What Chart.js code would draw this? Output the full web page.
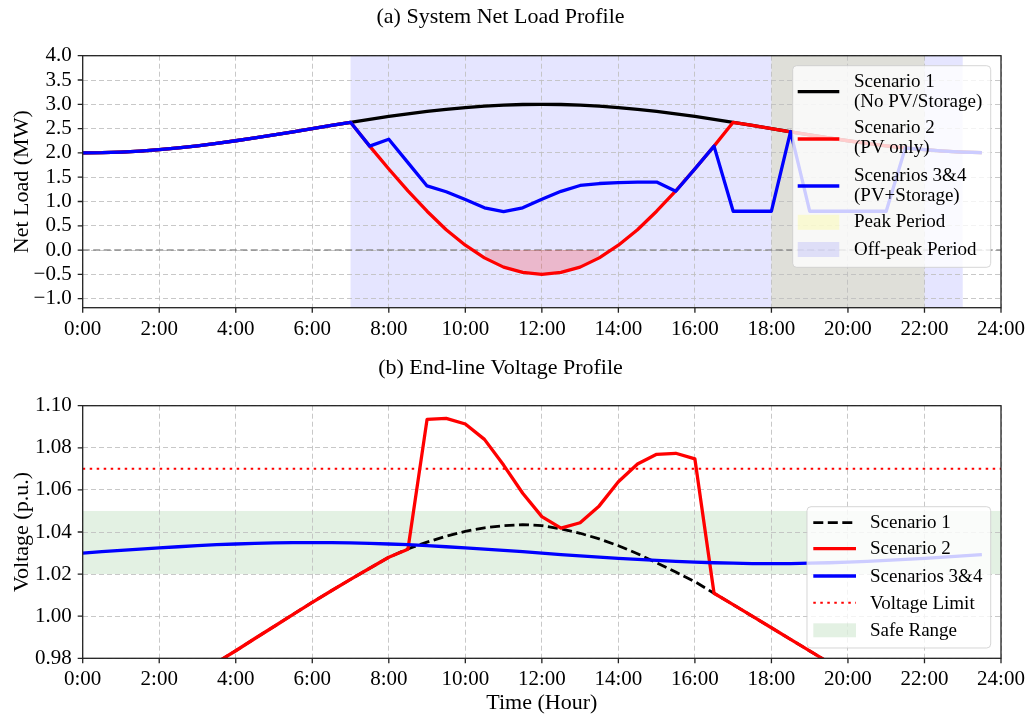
<!DOCTYPE html>
<html>
<head>
<meta charset="utf-8">
<script src="https://cdn.jsdelivr.net/npm/chart.js@4.4.0/dist/chart.umd.min.js"></script>
<style>
  html, body { margin: 0; padding: 0; background: #fff; }
  #wrap { position: relative; width: 1028px; height: 718px; }
  canvas { position: absolute; left: 0; }
  #c1 { top: 0; }
  #c2 { top: 345px; }
</style>
</head>
<body>
<div id="wrap">
  <canvas id="c1" width="1028" height="345"></canvas>
  <canvas id="c2" width="1028" height="373"></canvas>
</div>
<script>
// half-hour time steps (hours)
var hours = [0, 0.5, 1, 1.5, 2, 2.5, 3, 3.5, 4, 4.5, 5, 5.5,
             6, 6.5, 7, 7.5, 8, 8.5, 9, 9.5, 10, 10.5, 11, 11.5,
             12, 12.5, 13, 13.5, 14, 14.5, 15, 15.5, 16, 16.5, 17, 17.5,
             18, 18.5, 19, 19.5, 20, 20.5, 21, 21.5, 22, 22.5, 23, 23.5];

// (a) net load, MW
var loadS1 = [2.000, 2.004, 2.017, 2.038, 2.067, 2.103, 2.146, 2.196, 2.250, 2.309, 2.371, 2.435,
              2.500, 2.565, 2.629, 2.691, 2.750, 2.804, 2.854, 2.897, 2.933, 2.962, 2.983, 2.996,
              3.000, 2.996, 2.983, 2.962, 2.933, 2.897, 2.854, 2.804, 2.750, 2.691, 2.629, 2.565,
              2.500, 2.435, 2.371, 2.309, 2.250, 2.196, 2.146, 2.103, 2.067, 2.038, 2.017, 2.004];
var loadS2 = [2.000, 2.004, 2.017, 2.038, 2.067, 2.103, 2.146, 2.196, 2.250, 2.309, 2.371, 2.435,
              2.500, 2.565, 2.629, 2.140, 1.670, 1.220, 0.800, 0.420, 0.100, -0.160, -0.350, -0.460,
              -0.500, -0.460, -0.350, -0.160, 0.100, 0.420, 0.800, 1.220, 1.670, 2.140, 2.629, 2.565,
              2.500, 2.435, 2.371, 2.309, 2.250, 2.196, 2.146, 2.103, 2.067, 2.038, 2.017, 2.004];
var loadS34 = [2.000, 2.004, 2.017, 2.038, 2.067, 2.103, 2.146, 2.196, 2.250, 2.309, 2.371, 2.435,
               2.500, 2.565, 2.629, 2.140, 2.280, 1.800, 1.320, 1.200, 1.040, 0.870, 0.790, 0.870,
               1.045, 1.210, 1.330, 1.370, 1.390, 1.400, 1.400, 1.210, 1.670, 2.140, 0.800, 0.800,
               0.800, 2.440, 0.800, 0.800, 0.800, 0.800, 0.800, 2.100, 2.067, 2.038, 2.017, 2.004];

// (b) end-line voltage, p.u.
var voltS1 = [0.940, 0.945, 0.950, 0.955, 0.960, 0.966, 0.972, 0.978, 0.9836, 0.9894, 0.9951, 1.0009,
              1.0066, 1.0121, 1.0175, 1.0228, 1.0280, 1.0320, 1.0352, 1.0380, 1.0403, 1.0420, 1.0430, 1.0435,
              1.0430, 1.0415, 1.0394, 1.0367, 1.0335, 1.0297, 1.0254, 1.0210, 1.0164, 1.0109, 1.0055, 1.0000,
              0.9945, 0.9890, 0.9835, 0.9780, 0.9725, 0.9670, 0.9620, 0.9570, 0.9520, 0.9480, 0.9440, 0.9400];
var voltS2 = [0.940, 0.945, 0.950, 0.955, 0.960, 0.966, 0.972, 0.978, 0.9836, 0.9894, 0.9951, 1.0009,
              1.0066, 1.0121, 1.0175, 1.0228, 1.0280, 1.0318, 1.0935, 1.0940, 1.0913, 1.0840, 1.0718, 1.0584,
              1.0473, 1.0418, 1.0444, 1.0524, 1.0639, 1.0723, 1.0769, 1.0774, 1.0747, 1.0109, 1.0055, 1.0000,
              0.9945, 0.9890, 0.9835, 0.9780, 0.9725, 0.9670, 0.9620, 0.9570, 0.9520, 0.9480, 0.9440, 0.9400];
var voltS34 = [1.0300, 1.0307, 1.0313, 1.0319, 1.0325, 1.0330, 1.0335, 1.0340, 1.0343, 1.0346, 1.0348, 1.0350,
               1.0350, 1.0350, 1.0348, 1.0346, 1.0343, 1.0340, 1.0335, 1.0330, 1.0325, 1.0319, 1.0313, 1.0307,
               1.0300, 1.0293, 1.0287, 1.0281, 1.0275, 1.0270, 1.0265, 1.0260, 1.0257, 1.0254, 1.0252, 1.0250,
               1.0250, 1.0250, 1.0252, 1.0254, 1.0257, 1.0260, 1.0265, 1.0270, 1.0275, 1.0281, 1.0287, 1.0293];

var voltLimit = 1.07;
var safeRange = [1.02, 1.05];
var offPeak = [7, 23];
var peak = [18, 22];

var hourTicks = [0, 2, 4, 6, 8, 10, 12, 14, 16, 18, 20, 22, 24];
var loadTicks = [-1.0, -0.5, 0.0, 0.5, 1.0, 1.5, 2.0, 2.5, 3.0, 3.5, 4.0];
var voltTicks = [0.98, 1.00, 1.02, 1.04, 1.06, 1.08, 1.10];

var FONT = "'Liberation Serif', 'Times New Roman', serif";
Chart.defaults.font.family = FONT;
Chart.defaults.color = '#000';

function pts(ys) {
  return hours.map(function (h, i) { return { x: h, y: ys[i] }; });
}
// only the below-zero part of scenario 2 (matplotlib-like where= fill)
var negPts = [];
for (var i = 0; i < hours.length; i++) {
  if (loadS2[i] < 0) negPts.push({ x: hours[i], y: loadS2[i] });
}

function minus(s) { return s.replace('-', '\u2212'); }

var gridOpts = { color: 'rgba(190,190,190,0.85)', lineWidth: 1, drawTicks: false };
var borderOpts = { display: false, dash: [5, 3] };

function xScale(height, withTitle) {
  var s = {
    type: 'linear', min: 0, max: 24,
    afterBuildTicks: function (sc) { sc.ticks = hourTicks.map(function (v) { return { value: v }; }); },
    afterFit: function (sc) { sc.height = height; sc.paddingLeft = 0; sc.paddingRight = 0; },
    ticks: { font: { size: 21 }, color: '#000', padding: 9, maxRotation: 0, autoSkip: false,
             callback: function (v) { return v + ':00'; } },
    grid: gridOpts, border: borderOpts
  };
  if (withTitle) {
    s.title = { display: true, text: 'Time (Hour)', font: { size: 22 }, color: '#000', padding: { top: 0, bottom: 2 } };
  }
  return s;
}
function yScale(min, max, tickList, digits, label) {
  return {
    min: min, max: max,
    afterBuildTicks: function (sc) { sc.ticks = tickList.map(function (v) { return { value: v }; }); },
    afterFit: function (sc) { sc.width = 82.7; sc.paddingTop = 0; sc.paddingBottom = 0; },
    ticks: { font: { size: 21 }, color: '#000', padding: 11, autoSkip: false,
             callback: function (v) { return minus(Number(v).toFixed(digits)); } },
    title: { display: true, text: label, font: { size: 22 }, color: '#000', padding: { top: 9, bottom: 0 } },
    grid: gridOpts, border: borderOpts
  };
}

function drawLegend(ctx, box, items) {
  ctx.save();
  ctx.beginPath();
  ctx.roundRect(box.x, box.y, box.w, box.h, 4);
  ctx.fillStyle = 'rgba(255,255,255,0.8)';
  ctx.fill();
  ctx.strokeStyle = 'rgba(204,204,204,0.8)';
  ctx.lineWidth = 1;
  ctx.stroke();
  items.forEach(function (it) {
    if (it.kind === 'line') {
      ctx.beginPath();
      ctx.setLineDash(it.dash || []);
      ctx.strokeStyle = it.color;
      ctx.lineWidth = it.width;
      ctx.lineCap = 'butt';
      ctx.moveTo(box.hx0, it.hy);
      ctx.lineTo(box.hx1, it.hy);
      ctx.stroke();
      ctx.setLineDash([]);
    } else {
      ctx.fillStyle = it.color;
      ctx.fillRect(box.hx0, it.hy - it.ph / 2, box.hx1 - box.hx0, it.ph);
    }
    ctx.fillStyle = '#000';
    ctx.font = '19px ' + FONT;
    ctx.textBaseline = 'middle';
    ctx.textAlign = 'left';
    it.lines.forEach(function (ln) { ctx.fillText(ln[0], box.tx, ln[1]); });
  });
  ctx.restore();
}

function framePlugin(spans, legendBox, legendItems) {
  return {
    id: 'frame',
    beforeDraw: function (chart) {
      var a = chart.chartArea, x = chart.scales.x, y = chart.scales.y, ctx = chart.ctx;
      ctx.save();
      spans.forEach(function (s) {
        ctx.fillStyle = s.color;
        if (s.axis === 'x') {
          var x0 = x.getPixelForValue(s.from), x1 = x.getPixelForValue(s.to);
          ctx.fillRect(x0, a.top, x1 - x0, a.bottom - a.top);
        } else {
          var y0 = y.getPixelForValue(s.to), y1 = y.getPixelForValue(s.from);
          ctx.fillRect(a.left, y0, a.right - a.left, y1 - y0);
        }
      });
      ctx.restore();
    },
    afterDatasetsDraw: function (chart) {
      drawLegend(chart.ctx, legendBox, legendItems);
    },
    afterDraw: function (chart) {
      var a = chart.chartArea, ctx = chart.ctx;
      ctx.save();
      ctx.strokeStyle = '#222';
      ctx.lineWidth = 1.3;
      ctx.strokeRect(a.left, a.top, a.right - a.left, a.bottom - a.top);
      ctx.beginPath();
      chart.scales.x.ticks.forEach(function (t) {
        var px = chart.scales.x.getPixelForValue(t.value);
        ctx.moveTo(px, a.bottom); ctx.lineTo(px, a.bottom + 5);
      });
      chart.scales.y.ticks.forEach(function (t) {
        var py = chart.scales.y.getPixelForValue(t.value);
        ctx.moveTo(a.left, py); ctx.lineTo(a.left - 5, py);
      });
      ctx.stroke();
      ctx.restore();
    }
  };
}

var OFFPEAK_COLOR = 'rgba(0,0,255,0.1)';
var PEAK_COLOR = 'rgba(190,190,0,0.15)';
var SAFE_COLOR = 'rgba(0,128,0,0.11)';
var LW = 3.3;

// ---------- (a) System Net Load Profile ----------
new Chart(document.getElementById('c1'), {
  type: 'line',
  data: {
    datasets: [
      { label: 'Scenarios 3&4', data: pts(loadS34), borderColor: '#0000ff', borderWidth: LW },
      { label: 'Scenario 2', data: pts(loadS2), borderColor: '#ff0000', borderWidth: LW },
      { label: 'Scenario 1', data: pts(loadS1), borderColor: '#000000', borderWidth: LW },
      { label: 'neg', data: negPts, borderWidth: 0, fill: 'origin', backgroundColor: 'rgba(255,0,0,0.2)' },
      { label: 'zero', data: [{ x: 0, y: 0 }, { x: 24, y: 0 }], borderColor: 'rgba(128,128,128,0.85)',
        borderWidth: 1.5, borderDash: [7, 3.5] }
    ]
  },
  options: {
    responsive: false, animation: false,
    layout: { padding: { left: 0, right: 27, top: 0, bottom: 0 } },
    elements: { point: { radius: 0 }, line: { tension: 0, borderJoinStyle: 'round', fill: false } },
    plugins: {
      legend: { display: false }, tooltip: { enabled: false },
      title: { display: true, text: '(a) System Net Load Profile', color: '#000',
               font: { size: 22, weight: 'normal' }, padding: { top: 4.5, bottom: 24.8 } }
    },
    scales: {
      x: xScale(37.3, false),
      y: yScale(-1.185, 4.0, loadTicks, 1, 'Net Load (MW)')
    }
  },
  plugins: [framePlugin(
    [{ axis: 'x', from: offPeak[0], to: offPeak[1], color: OFFPEAK_COLOR },
     { axis: 'x', from: peak[0], to: peak[1], color: PEAK_COLOR }],
    { x: 792.7, y: 65.7, w: 198, h: 201.6, hx0: 797.7, hx1: 839.3, tx: 854 },
    [
      { kind: 'line', color: '#000', width: LW, hy: 91.7, lines: [['Scenario 1', 81.7], ['(No PV/Storage)', 101.7]] },
      { kind: 'line', color: '#ff0000', width: LW, hy: 139, lines: [['Scenario 2', 128.3], ['(PV only)', 148.3]] },
      { kind: 'line', color: '#0000ff', width: LW, hy: 186, lines: [['Scenarios 3&4', 176], ['(PV+Storage)', 195.7]] },
      { kind: 'patch', color: 'rgba(255,255,0,0.15)', hy: 222.3, ph: 15, lines: [['Peak Period', 222.3]] },
      { kind: 'patch', color: OFFPEAK_COLOR, hy: 249.5, ph: 15, lines: [['Off-peak Period', 250]] }
    ]
  )]
});

// ---------- (b) End-line Voltage Profile ----------
new Chart(document.getElementById('c2'), {
  type: 'line',
  data: {
    datasets: [
      { label: 'Scenarios 3&4', data: pts(voltS34), borderColor: '#0000ff', borderWidth: LW },
      { label: 'Scenario 2', data: pts(voltS2), borderColor: '#ff0000', borderWidth: LW },
      { label: 'Scenario 1', data: pts(voltS1), borderColor: '#000000', borderWidth: 2.8, borderDash: [10, 4.5] },
      { label: 'Voltage Limit', data: [{ x: 0, y: voltLimit }, { x: 24, y: voltLimit }], borderColor: '#ff0000',
        borderWidth: 2, borderDash: [2.5, 4.5] }
    ]
  },
  options: {
    responsive: false, animation: false,
    layout: { padding: { left: 0, right: 27, top: 0, bottom: 0 } },
    elements: { point: { radius: 0 }, line: { tension: 0, borderJoinStyle: 'round', fill: false } },
    plugins: {
      legend: { display: false }, tooltip: { enabled: false },
      title: { display: true, text: '(b) End-line Voltage Profile', color: '#000',
               font: { size: 22, weight: 'normal' }, padding: { top: 10.5, bottom: 23.8 } }
    },
    scales: {
      x: xScale(59.7, true),
      y: yScale(0.98, 1.10, voltTicks, 2, 'Voltage (p.u.)')
    }
  },
  plugins: [framePlugin(
    [{ axis: 'y', from: safeRange[0], to: safeRange[1], color: SAFE_COLOR }],
    { x: 807, y: 161.7, w: 183.7, h: 141.3, hx0: 813.3, hx1: 856, tx: 870 },
    [
      { kind: 'line', color: '#000', width: 2.8, dash: [10, 4.5], hy: 177.7, lines: [['Scenario 1', 177.7]] },
      { kind: 'line', color: '#ff0000', width: LW, hy: 203.7, lines: [['Scenario 2', 204.3]] },
      { kind: 'line', color: '#0000ff', width: LW, hy: 231, lines: [['Scenarios 3&4', 232.3]] },
      { kind: 'line', color: '#ff0000', width: 2, dash: [2.5, 4.5], hy: 257.7, lines: [['Voltage Limit', 259]] },
      { kind: 'patch', color: SAFE_COLOR, hy: 285.3, ph: 14, lines: [['Safe Range', 285.7]] }
    ]
  )]
});
</script>
</body>
</html>
